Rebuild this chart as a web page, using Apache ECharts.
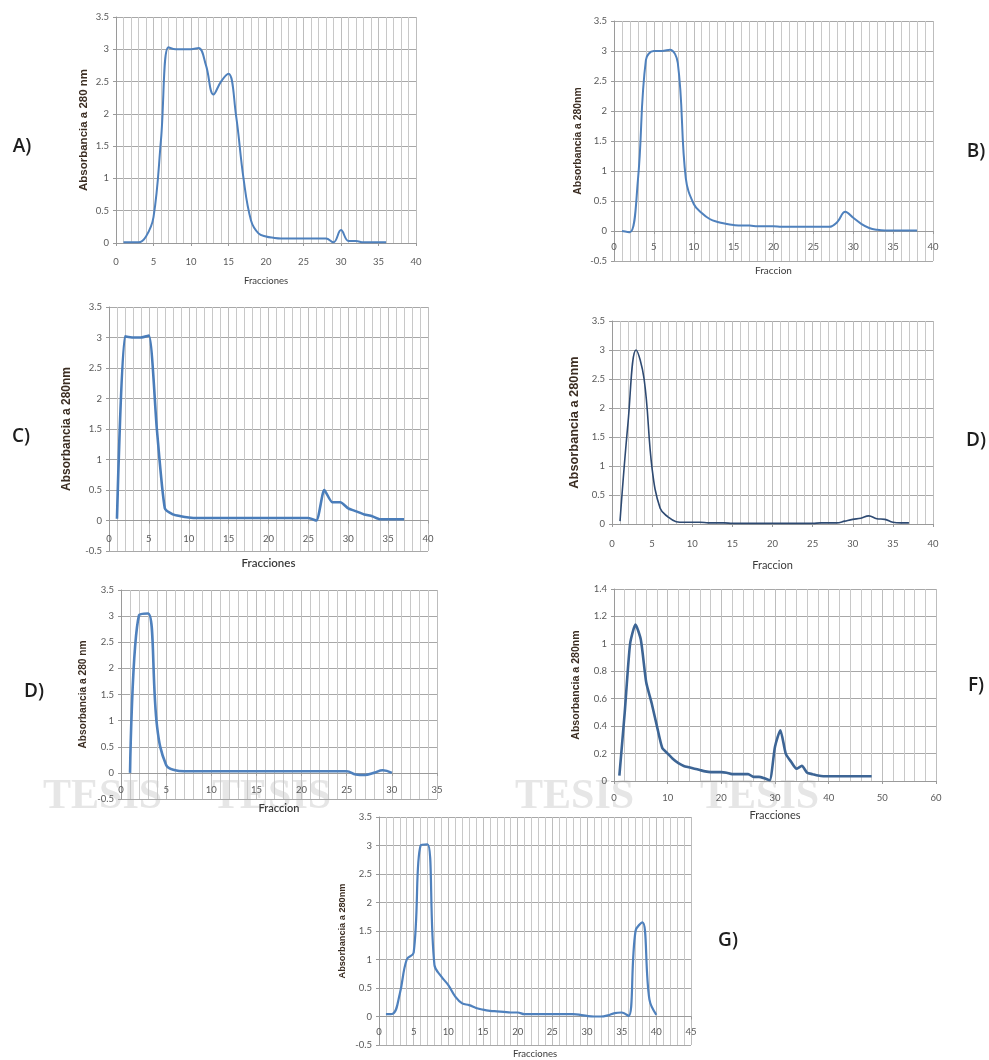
<!DOCTYPE html>
<html>
<head>
<meta charset="utf-8">
<script src="https://cdn.jsdelivr.net/npm/echarts@6/dist/echarts.min.js"></script>
<style>
html,body{margin:0;padding:0;background:#fff;}
#chart{width:989px;height:1060px;}
</style>
</head>
<body>
<div id="chart"></div>
<script>
// ---------- DATA ----------
const fractionsA = [1,2,3,4,5,6,7,8,9,10,11,12,13,14,15,16,17,18,19,20,21,22,23,24,25,26,27,28,29,30,31,32,33,34,35,36];
const absorbA = [0.01,0.01,0.01,0.1,0.4,1.6,3.03,3.0,3.0,3.0,3.02,2.75,2.3,2.5,2.62,1.98,1.0,0.35,0.15,0.1,0.08,0.07,0.07,0.07,0.07,0.07,0.07,0.07,0.01,0.2,0.03,0.03,0.01,0.01,0.01,0.01];

const fractionsB = [1,2,3,4,5,6,7,8,9,10,11,12,13,14,15,16,17,18,19,20,21,22,23,24,25,26,27,28,29,30,31,32,33,34,35,36,37,38];
const absorbB = [0.0,-0.02,0.85,2.85,3.0,3.0,3.02,2.8,0.88,0.45,0.3,0.2,0.15,0.12,0.1,0.09,0.09,0.08,0.08,0.08,0.07,0.07,0.07,0.07,0.07,0.07,0.07,0.15,0.32,0.22,0.12,0.05,0.02,0.01,0.01,0.01,0.01,0.01];

const fractionsC = [1,2,3,4,5,6,7,8,9,10,11,12,13,14,15,16,17,18,19,20,21,22,23,24,25,26,27,28,29,30,31,32,33,34,35,36,37];
const absorbC = [0.03,3.02,3.0,3.0,3.03,1.5,0.2,0.1,0.07,0.05,0.04,0.04,0.04,0.04,0.04,0.04,0.04,0.04,0.04,0.04,0.04,0.04,0.04,0.04,0.04,0.0,0.5,0.3,0.3,0.2,0.15,0.1,0.07,0.02,0.02,0.02,0.02];

const fractionsD1 = [1,2,3,4,5,6,7,8,9,10,11,12,13,14,15,16,17,18,19,20,21,22,23,24,25,26,27,28,29,30,31,32,33,34,35,36,37];
const absorbD1 = [0.05,1.75,3.0,2.5,0.95,0.27,0.12,0.04,0.03,0.03,0.03,0.02,0.02,0.02,0.01,0.01,0.01,0.01,0.01,0.01,0.01,0.01,0.01,0.01,0.01,0.02,0.02,0.02,0.05,0.08,0.1,0.14,0.09,0.08,0.03,0.02,0.02];

const fractionsD2 = [1,2,3,4,5,6,7,8,9,10,11,12,13,14,15,16,17,18,19,20,21,22,23,24,25,26,27,28,29,30];
const absorbD2 = [0.0,3.02,3.05,0.88,0.15,0.05,0.03,0.03,0.03,0.03,0.03,0.03,0.03,0.03,0.03,0.03,0.03,0.03,0.03,0.03,0.03,0.03,0.03,0.03,0.03,-0.03,-0.04,0.0,0.05,0.0];

const fractionsF = [1,2,3,4,5,6,7,8,9,10,11,12,13,14,15,16,17,18,19,20,21,22,23,24,25,26,27,28,29,30,31,32,33,34,35,36,37,38,39,40,41,42,43,44,45,46,47,48];
const absorbF = [0.04,0.5,1.0,1.14,1.03,0.72,0.57,0.4,0.24,0.2,0.16,0.13,0.11,0.1,0.09,0.08,0.07,0.065,0.065,0.065,0.06,0.05,0.05,0.05,0.05,0.03,0.03,0.02,0.005,0.25,0.37,0.2,0.14,0.09,0.11,0.06,0.05,0.04,0.035,0.035,0.035,0.035,0.035,0.035,0.035,0.035,0.035,0.035];

const fractionsG = [1,2,3,4,5,6,7,8,9,10,11,12,13,14,15,16,17,18,19,20,21,22,23,24,25,26,27,28,29,30,31,32,33,34,35,36,37,38,39,40];
const absorbG = [0.04,0.05,0.4,1.0,1.12,3.0,3.02,0.9,0.7,0.55,0.35,0.23,0.2,0.15,0.12,0.1,0.09,0.08,0.07,0.07,0.04,0.04,0.04,0.04,0.04,0.04,0.04,0.04,0.03,0.01,0.0,0.0,0.02,0.06,0.07,0.01,1.5,1.65,0.3,0.03];

const panelLabels = ['A)','B)','C)','D)','D)','F)','G)'];
const yTitles = ['Absorbancia a 280 nm','Absorbancia a 280nm','Absorbancia a 280nm','Absorbancia a 280nm','Absorbancia a 280 nm','Absorbancia a 280nm','Absorbancia a 280nm'];
const xTitles = ['Fracciones','Fraccion','Fracciones','Fraccion','Fraccion','Fracciones','Fracciones'];
const watermarkWord = 'TESIS';

// ---------- LAYOUT / STYLE ----------
const panels = [
  {x: fractionsA,  y: absorbA,  grid:{left:116,top:17, width:300,height:226}, xMax:40, xInt:5, xMinor:5, yMin:0,   yMax:3.5, yInt:0.5, color:'#4f81bd', lw:2,   smooth:0.4, yFs:11.5, yGap:26, xFs:9.5, xGap:33, xBold:'normal', lblMargin:14},
  {x: fractionsB,  y: absorbB,  grid:{left:614,top:21, width:319,height:240}, xMax:40, xInt:5, xMinor:5, yMin:-0.5,yMax:3.5, yInt:0.5, color:'#4f81bd', lw:2,   smooth:0.4, yFs:10.4, yGap:31, xFs:10, xGap:35, xBold:'normal', lblMargin:11},
  {x: fractionsC,  y: absorbC,  grid:{left:109,top:307,width:319,height:244}, xMax:40, xInt:5, xMinor:5, yMin:-0.5,yMax:3.5, yInt:0.5, color:'#4a7dba', lw:2.6, smooth:0.2, yFs:12, yGap:36, xFs:11.5, xGap:37, xBold:'600', lblMargin:13},
  {x: fractionsD1, y: absorbD1, grid:{left:612,top:321,width:321,height:203}, xMax:40, xInt:5, xMinor:5, yMin:0,   yMax:3.5, yInt:0.5, color:'#2e4a72', lw:1.6, smooth:0.4, yFs:12.8, yGap:31, xFs:11, xGap:36, xBold:'normal', lblMargin:15},
  {x: fractionsD2, y: absorbD2, grid:{left:121,top:590,width:316,height:209}, xMax:35, xInt:5, xMinor:5, yMin:-0.5,yMax:3.5, yInt:0.5, color:'#4f81bd', lw:2.6, smooth:0.4, yFs:10.2, yGap:33, xFs:11, xGap:30, xBold:'600', lblMargin:12},
  {x: fractionsF,  y: absorbF,  grid:{left:614,top:589,width:322,height:192}, xMax:60, xInt:10,xMinor:5, yMin:0,   yMax:1.4, yInt:0.2, color:'#3d6595', lw:2.6, smooth:0.2, yFs:10.6, yGap:32, xFs:11, xGap:29, xBold:'normal', lblMargin:12},
  {x: fractionsG,  y: absorbG,  grid:{left:379,top:817,width:312,height:228}, xMax:45, xInt:5, xMinor:5, yMin:-0.5,yMax:3.5, yInt:0.5, color:'#4f81bd', lw:2.2, smooth:0.4, yFs:9.2, yGap:32, xFs:9.5, xGap:32, xBold:'normal', lblMargin:10}
];
const labelPos = [[22,147],[976,152],[21,437],[976,441],[34,692],[976,686],[728,941]];
const watermarkPos = [[43,776],[212,776],[515,776],[700,776]];

const tickFont = {color:'#595959', fontSize:9.5, fontFamily:'Lato, "Liberation Sans", sans-serif'};

const grids = [], xAxes = [], yAxes = [], series = [];
panels.forEach((p,i)=>{
  grids.push(Object.assign({containLabel:false}, p.grid));
  // place the horizontal axis on the zero line (Excel style), labels right under it
  const zeroOffset = -((0 - p.yMin) / (p.yMax - p.yMin)) * p.grid.height;
  xAxes.push({
    type:'value', gridIndex:i, min:0, max:p.xMax, interval:p.xInt,
    position:'bottom', offset:zeroOffset,
    name:xTitles[i], nameLocation:'middle', nameGap:p.xGap,
    nameTextStyle:{color:'#3a3a3a', fontSize:p.xFs, fontWeight:p.xBold, fontFamily:'Lato, "Open Sans", sans-serif'},
    axisLine:{show:true, onZero:false, lineStyle:{color:'#9a9a9a', width:1}},
    axisTick:{show:true, length:3, lineStyle:{color:'#9a9a9a'}},
    axisLabel:Object.assign({margin:p.lblMargin}, tickFont),
    splitLine:{show:true, lineStyle:{color:'#bdbdbd', width:1}},
    minorTick:{show:false, splitNumber:p.xMinor},
    minorSplitLine:{show:true, lineStyle:{color:'#c8c8c8', width:1}}
  });
  yAxes.push({
    type:'value', gridIndex:i, min:p.yMin, max:p.yMax, interval:p.yInt,
    name:yTitles[i], nameLocation:'middle', nameGap:p.yGap, nameRotate:90,
    nameTextStyle:{color:'#3b2d22', fontSize:p.yFs, fontWeight:'bold', fontFamily:'"Liberation Sans", Arial, sans-serif'},
    axisLine:{show:true, onZero:false, lineStyle:{color:'#9a9a9a', width:1}},
    axisTick:{show:true, length:3, lineStyle:{color:'#9a9a9a'}},
    axisLabel:Object.assign({margin:7}, tickFont),
    splitLine:{show:true, lineStyle:{color:'#a8a8a8', width:1}}
  });
  series.push({
    type:'line', xAxisIndex:i, yAxisIndex:i,
    data:p.x.map((v,k)=>[v,p.y[k]]),
    smooth:p.smooth, showSymbol:false, symbol:'none',
    lineStyle:{color:p.color, width:p.lw},
    itemStyle:{color:p.color},
    z:5
  });
});

const graphics = [];
// faint watermark text behind the panels
watermarkPos.forEach(pt=>{
  graphics.push({type:'text', x:pt[0], y:pt[1], z:-10, silent:true,
    style:{text:watermarkWord, fill:'#e6e6e6', font:'bold 42px "Liberation Serif", serif', verticalAlign:'top'}});
});
panelLabels.forEach((t,i)=>{
  graphics.push({type:'text', x:labelPos[i][0], y:labelPos[i][1], z:20,
    style:{text:t, fill:'#1e1e1e', font:'600 19px "Open Sans", Lato, sans-serif', align:'center', verticalAlign:'middle'}});
});

const chart = echarts.init(document.getElementById('chart'), null, {renderer:'canvas'});
chart.setOption({
  animation:false,
  backgroundColor:'#ffffff',
  grid:grids, xAxis:xAxes, yAxis:yAxes, series:series,
  graphic:graphics
});
</script>
</body>
</html>
